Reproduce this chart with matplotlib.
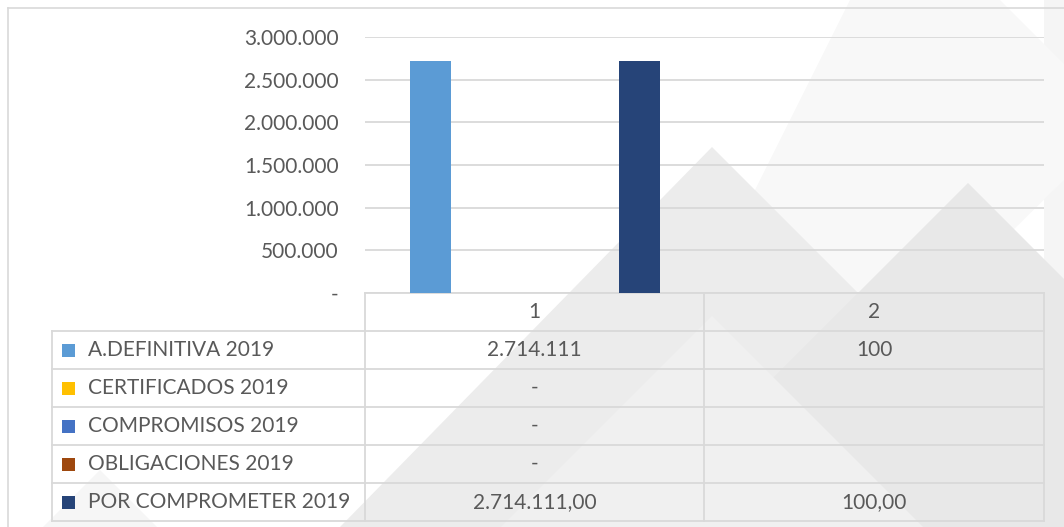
import numpy as np
import matplotlib
matplotlib.use("Agg")
import matplotlib.pyplot as plt
from matplotlib.patches import Polygon, Rectangle

# data
categories = ["1", "2"]
series_names = ["A.DEFINITIVA 2019", "CERTIFICADOS 2019", "COMPROMISOS 2019",
                "OBLIGACIONES 2019", "POR COMPROMETER 2019"]
series_colors = ["#5B9BD5", "#FFC000", "#4472C4", "#9E480E", "#264478"]
cat1_values = [2714111, 0, 0, 0, 2714111.00]
cat2_values = [100, np.nan, np.nan, np.nan, 100.00]
decimals = [0, 0, 0, 0, 2]
y_ticks = [0, 500000, 1000000, 1500000, 2000000, 2500000, 3000000]

plt.rcParams["font.family"] = ["Lato", "DejaVu Sans"]
txt_color = "#595959"
grid_color = "#d9d9d9"
fsize = 15


def fmt(v, dec):
    # spanish style numbers, zero -> "-", missing -> blank
    if np.isnan(v):
        return ""
    if v == 0:
        return "-"
    s = f"{v:,.{dec}f}"
    return s.replace(",", "X").replace(".", ",").replace("X", ".")


W, H = 1064, 527
fig = plt.figure(figsize=(W / 100, H / 100), dpi=100)

# background layer in pixel coords (watermark, frame, table grid)
bg = fig.add_axes([0, 0, 1, 1], zorder=0)
bg.set_xlim(0, W)
bg.set_ylim(H, 0)
bg.axis("off")

shapes = [
    ([(1044, 0), (1064, 0), (1064, H), (1044, H)], "#f5f5f5"),
    ([(850, 0), (1000, 0), (1064, 64), (1064, 180), (820, 420), (700, 300)], "#f8f8f8"),
    ([(712, 147), (1064, 499), (1064, 527), (340, 527)], "#ececec"),
    ([(968, 183), (1064, 279), (1064, 527), (624, 527)], "#e8e8e8"),
    ([(712, 316), (923, 527), (501, 527)], "#f0f0f0"),
    ([(100, 470), (157, 527), (43, 527)], "#f6f6f6"),
]
for pts, c in shapes:
    bg.add_patch(Polygon(pts, closed=True, facecolor=c, edgecolor="none", zorder=0))

# chart frame
bg.plot([8, W], [8, 8], color=grid_color, lw=1.2, zorder=1)
bg.plot([8, 8], [8, H], color=grid_color, lw=1.2, zorder=1)

# table layout
left, x_lab, x_mid, right = 52, 365, 704, 1044
top, row_h = 293, 38
n_rows = len(series_names)
row_y = [top + row_h * (i + 1) for i in range(n_rows + 1)]
lw = 1.3
bg.plot([x_lab, right], [top, top], color=grid_color, lw=lw, zorder=2)
for y in row_y:
    bg.plot([left, right], [y, y], color=grid_color, lw=lw, zorder=2)
for x in [x_lab, x_mid, right]:
    bg.plot([x, x], [top, row_y[-1]], color=grid_color, lw=lw, zorder=2)
bg.plot([left, left], [row_y[0], row_y[-1]], color=grid_color, lw=lw, zorder=2)

col_centers = [(x_lab + x_mid) / 2, (x_mid + right) / 2]
for cx, cat in zip(col_centers, categories):
    bg.text(cx, top + row_h / 2, cat, ha="center", va="center",
            fontsize=fsize, color=txt_color, zorder=3)
for i, name in enumerate(series_names):
    cy = row_y[i] + row_h / 2
    bg.add_patch(Rectangle((62, cy - 6.5), 13, 13, facecolor=series_colors[i],
                           edgecolor="none", zorder=3))
    bg.text(88, cy, name, ha="left", va="center", fontsize=fsize,
            color=txt_color, zorder=3)
    for cx, vals in zip(col_centers, [cat1_values, cat2_values]):
        bg.text(cx, cy, fmt(vals[i], decimals[i]), ha="center", va="center",
                fontsize=fsize, color=txt_color, zorder=3)

# bar chart
ax = fig.add_axes([x_lab / W, (H - 293) / H, (right - x_lab) / W, (293 - 37) / H], zorder=1)
ax.set_facecolor("none")
x = np.arange(len(categories))
bar_w = 0.121
step = 0.154
for i, name in enumerate(series_names):
    vals = np.nan_to_num([cat1_values[i], cat2_values[i]])
    ax.bar(x + (i - 2) * step, vals, width=bar_w, color=series_colors[i], zorder=3)

ax.set_xlim(-0.5, 1.5)
ax.set_ylim(0, 3000000)
ax.set_yticks(y_ticks)
ax.set_yticklabels([fmt(v, 0) for v in y_ticks], fontsize=fsize, color=txt_color)
ax.tick_params(axis="y", length=0, pad=19)
ax.set_xticks([])
ax.grid(axis="y", color=grid_color, lw=1.3, zorder=0)
for s in ax.spines.values():
    s.set_visible(False)

fig.savefig("out.png", dpi=100)
